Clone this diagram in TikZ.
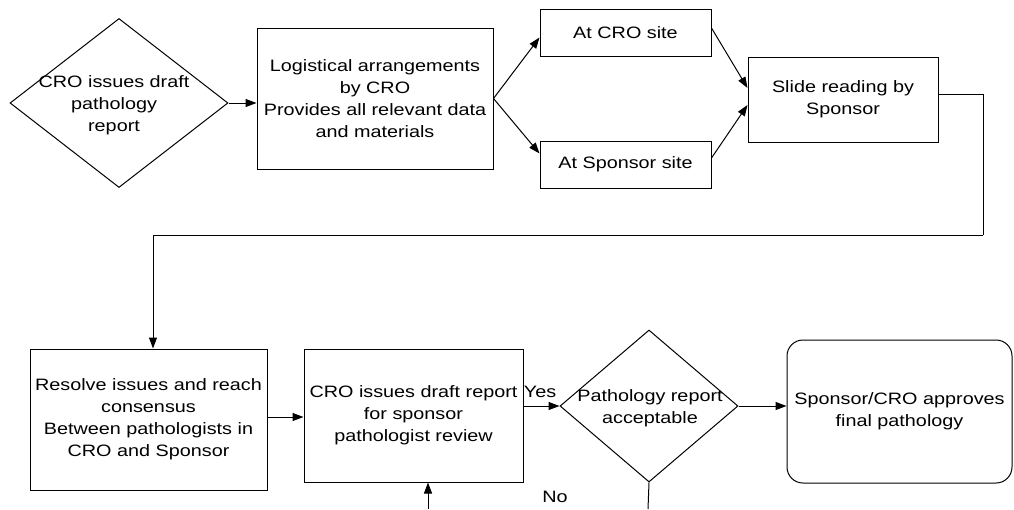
\documentclass[tikz,border=0pt]{standalone}
\usepackage{fontspec}
\setmainfont{Liberation Sans}[FakeStretch=1.2]
\usetikzlibrary{shapes.geometric,arrows.meta}
\begin{document}
\begin{tikzpicture}[x=1pt,y=-1pt,
  every node/.style={font=\fontsize{16.5}{22}\selectfont, align=center, inner sep=0pt},
  box/.style={draw, line width=1pt, rectangle},
  diam/.style={draw, line width=1pt, diamond, aspect=1.3},
  conn/.style={line width=1pt},
  arr/.style={line width=1pt, -{Triangle[length=11pt,width=8pt]}}]
\useasboundingbox (0,0) rectangle (1014,509);
% top row
\node[diam, minimum width=218pt, minimum height=169pt] (d1) at (119,103) {};
\node (d1t) at (114,105) {CRO issues draft\\pathology\\report};
\node[box, minimum width=236pt, minimum height=141pt] (logi) at (375,98.5)
  {Logistical arrangements\\by CRO\\Provides all relevant data\\and materials};
\node[box, minimum width=171pt, minimum height=47pt] (atcro) at (625.5,32.5) {At CRO site};
\node[box, minimum width=171pt, minimum height=47pt] (atsp) at (625.5,164.5) {At Sponsor site};
\node[box, minimum width=190pt, minimum height=85pt] (slide) at (843,99.5) {Slide reading by\\Sponsor};
% bottom row
\node[box, minimum width=237pt, minimum height=141pt] (resolve) at (148.5,419.5)
  {Resolve issues and reach\\consensus\\Between pathologists in\\CRO and Sponsor};
\node[box, minimum width=219pt, minimum height=133pt] (draft) at (413.5,415.5)
  {CRO issues draft report\\for sponsor\\pathologist review};
\node[diam, minimum width=178pt, minimum height=152pt] (d2) at (649,406) {};
\node (d2t) at (650,408) {Pathology report\\acceptable};
\node[box, rounded corners=16pt, minimum width=225pt, minimum height=143pt] (final) at (899.5,411.5)
  {Sponsor/CRO approves\\final pathology};
\node (yes) at (540,392) {Yes};
\node (no) at (555,497) {No};
\coordinate (turn) at (983,235);
\coordinate (noend) at (648,509);
\coordinate (backstart) at (428,509);
% connectors
\draw[arr] (d1.east) -- (d1.east -| logi.west);
\draw[arr] (logi.east) -- ([yshift=-5pt]atcro.west);
\draw[arr] (logi.east) -- ([yshift=11pt]atsp.west);
\draw[arr] ([yshift=4.5pt]atcro.east) -- ([yshift=11.5pt]slide.west);
\draw[arr] ([yshift=6.5pt]atsp.east) -- ([yshift=-5.5pt]slide.west);
\draw[conn] ([yshift=5.5pt]slide.east) -| (turn);
\draw[arr] (turn) -| ([xshift=4.5pt]resolve.north);
\draw[arr] ([yshift=2.5pt]resolve.east) -- ([yshift=2.5pt]resolve.east -| draft.west);
\draw[arr] (d2.west -| draft.east) -- (d2.west);
\draw[arr] (d2.east) -- (d2.east -| final.west);
\draw[conn] (d2.south) -- (noend);
\draw[arr] (backstart) -- (backstart |- draft.south);
\end{tikzpicture}
\end{document}
